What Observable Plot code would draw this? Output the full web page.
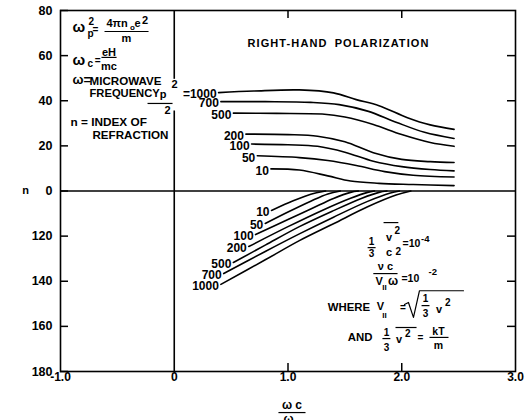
<!DOCTYPE html>
<html><head><meta charset="utf-8">
<script src="https://cdn.jsdelivr.net/npm/d3@7"></script>
<script src="https://cdn.jsdelivr.net/npm/@observablehq/plot@0.6"></script>
<style>body{margin:0;background:#fff} svg{display:block}</style>
</head><body><div id="chart"></div>
<script>
// tick values and labels
const yTicks = [80, 60, 40, 20, 0, -20, -40, -60, -80];
const yTickLabels = ["80", "60", "40", "20", "0", "120", "140", "160", "180"];
const xTicks = [-1, 0, 1, 2, 3];
const xTickLabels = ["-1.0", "0", "1.0", "2.0", "3.0"];
const sideTicksY = [60, 40, 20, -20, -40, -60];
const innerTicksX = [1, 2];

// curve names (ωp²/ω² values)
const curveNames = ["10", "50", "100", "200", "500", "700", "1000"];

// upper branch (n > 0): [ωc/ω, n]
const upper10   = [[0.85,9.8],[1.1,9.3],[1.35,6.7],[1.55,4.4],[1.8,3.4],[2.1,2.9],[2.46,2.4]];
const upper50   = [[0.73,15.6],[1.1,14.8],[1.35,13.5],[1.6,11.3],[1.85,8.6],[2.1,7.0],[2.46,6.2]];
const upper100  = [[0.68,20.8],[1.0,20.5],[1.26,19.8],[1.5,17.2],[1.75,13.2],[2.0,10.8],[2.25,9.5],[2.46,8.9]];
const upper200  = [[0.63,25.2],[1.0,25.0],[1.26,24.3],[1.5,21.8],[1.75,17.0],[2.0,14.0],[2.25,13.0],[2.46,12.6]];
const upper500  = [[0.52,34.5],[0.9,34.4],[1.3,34.1],[1.5,32.8],[1.75,29.5],[2.0,25.0],[2.25,21.5],[2.46,19.8]];
const upper700  = [[0.41,39.6],[0.8,39.6],[1.2,39.3],[1.45,38.3],[1.7,35.4],[1.95,30.5],[2.2,26.0],[2.46,23.3]];
const upper1000 = [[0.39,43.6],[0.7,44.3],[1.1,44.8],[1.4,43.5],[1.6,40.5],[1.8,37.8],[2.05,32.5],[2.25,29.3],[2.46,27.3]];

// lower branch (n < 0)
const lower10   = [[0.855,-8.6],[1.0,-5.3],[1.15,-2.3],[1.25,-0.8],[1.33,0]];
const lower50   = [[0.80,-14.4],[1.0,-9.3],[1.2,-4.5],[1.35,-1.3],[1.46,0]];
const lower100  = [[0.715,-19.3],[1.0,-12.6],[1.2,-8.0],[1.4,-3.3],[1.55,-0.6],[1.62,0]];
const lower200  = [[0.655,-24.6],[1.0,-15.8],[1.3,-8.6],[1.55,-3.2],[1.7,-0.6],[1.76,0]];
const lower500  = [[0.52,-31.7],[0.8,-24.0],[1.1,-15.8],[1.4,-8.7],[1.65,-3.2],[1.8,-0.6],[1.87,0]];
const lower700  = [[0.435,-36.6],[0.8,-26.8],[1.1,-19.0],[1.4,-11.6],[1.7,-4.6],[1.9,-0.9],[1.98,0]];
const lower1000 = [[0.41,-41.4],[0.8,-30.5],[1.1,-22.0],[1.4,-14.5],[1.7,-7.0],[1.95,-1.8],[2.08,0]];

const upperCurves = [upper10, upper50, upper100, upper200, upper500, upper700, upper1000];
const lowerCurves = [lower10, lower50, lower100, lower200, lower500, lower700, lower1000];

// build table
const curves = [];
const curveLabels = [];
curveNames.forEach((name, i) => {
  upperCurves[i].forEach(([x, y]) => curves.push({key: "u" + name, x, y}));
  lowerCurves[i].forEach(([x, y]) => curves.push({key: "l" + name, x, y}));
  curveLabels.push({x: upperCurves[i][0][0], y: upperCurves[i][0][1], text: name === "1000" ? "=1000" : name});
  curveLabels.push({x: lowerCurves[i][0][0], y: lowerCurves[i][0][1], text: name});
});

// annotation texts (data coordinates)
const notes = [
  {x:-0.894, y:72.5, t:"ω", s:15},
  {x:-0.754, y:75.2, t:"2", s:10},
  {x:-0.763, y:69.6, t:"p", s:10},
  {x:-0.718, y:71.3, t:"=", s:10},
  {x:-0.596, y:74.2, t:"4πn", s:11},
  {x:-0.389, y:72.6, t:"o", s:8},
  {x:-0.350, y:74.2, t:"e", s:11},
  {x:-0.284, y:75.7, t:"2", s:11},
  {x:-0.420, y:67.4, t:"m", s:11, a:"middle"},
  {x:-0.894, y:57.8, t:"ω", s:15},
  {x:-0.763, y:56.3, t:"c", s:10},
  {x:-0.700, y:57.8, t:"=", s:10},
  {x:-0.574, y:61.6, t:"eH", s:11, a:"middle"},
  {x:-0.574, y:55.4, t:"mc", s:11, a:"middle"},
  {x:-0.894, y:49.2, t:"ω=", s:13},
  {x:-0.745, y:48.5, t:"MICROWAVE", s:11.6},
  {x:-0.745, y:43.2, t:"FREQUENCY", s:11.2},
  {x:-0.128, y:42.6, t:"p", s:11},
  {x:0.002, y:47.0, t:"2", s:11, a:"middle"},
  {x:-0.059, y:35.5, t:"2", s:11, a:"middle"},
  {x:-0.912, y:30.4, t:"n = INDEX OF", s:11.8},
  {x:-0.719, y:24.6, t:"REFRACTION", s:11.6},
  {x:1.444, y:65.4, t:"RIGHT-HAND POLARIZATION", s:11, a:"middle"},
  {x:1.734, y:-22.4, t:"1", s:10, a:"middle"},
  {x:1.734, y:-27.9, t:"3", s:10, a:"middle"},
  {x:1.862, y:-20.4, t:"v", s:11},
  {x:1.936, y:-17.6, t:"2", s:10},
  {x:1.862, y:-27.4, t:"c", s:11},
  {x:1.946, y:-26.8, t:"2", s:10},
  {x:2.007, y:-23.3, t:"=10", s:10.5},
  {x:2.170, y:-21.3, t:"-4", s:9.5},
  {x:1.856, y:-33.5, t:"ν c", s:11, a:"middle"},
  {x:1.770, y:-40.1, t:"V", s:11},
  {x:1.829, y:-42.6, t:"II", s:8},
  {x:1.880, y:-39.9, t:"ω", s:12},
  {x:1.997, y:-38.8, t:"=10", s:10.5},
  {x:2.235, y:-35.7, t:"-2", s:9.5},
  {x:1.349, y:-51.6, t:"WHERE", s:11.4},
  {x:1.780, y:-51.2, t:"V", s:11},
  {x:1.829, y:-55.2, t:"II", s:8},
  {x:1.985, y:-51.6, t:"=", s:10},
  {x:2.209, y:-47.7, t:"1", s:10, a:"middle"},
  {x:2.209, y:-54.5, t:"3", s:10, a:"middle"},
  {x:2.300, y:-52.5, t:"v", s:11},
  {x:2.380, y:-49.4, t:"2", s:10},
  {x:1.525, y:-64.9, t:"AND", s:11.4},
  {x:1.866, y:-62.7, t:"1", s:10, a:"middle"},
  {x:1.866, y:-69.4, t:"3", s:10, a:"middle"},
  {x:1.950, y:-65.8, t:"v", s:11},
  {x:2.028, y:-63.4, t:"2", s:10},
  {x:2.165, y:-64.9, t:"=", s:10, a:"middle"},
  {x:2.323, y:-62.2, t:"kT", s:10.5, a:"middle"},
  {x:2.323, y:-68.4, t:"m", s:10.5, a:"middle"},
  {x:1.035, y:-95.0, t:"ω c", s:12, a:"middle"},
  {x:1.005, y:-101.3, t:"ω", s:12, a:"middle"},
  {x:-1.307, y:0.2, t:"n", s:11, a:"middle"}
];
const notesStart = notes.filter(d => !d.a);
const notesMiddle = notes.filter(d => d.a === "middle");

// fraction bars and overlines [x1, y1, x2, y2]
const noteLines = [
  [-0.613, 70.7, -0.226, 70.7],
  [-0.64, 59.2, -0.507, 59.2],
  [-0.235, 38.8, -0.015, 38.8],
  [1.70, -25.1, 1.77, -25.1],
  [1.84, -14.0, 1.97, -14.0],
  [1.75, -36.6, 1.963, -36.6],
  [2.174, -50.8, 2.244, -50.8],
  [1.83, -65.4, 1.90, -65.4],
  [1.945, -60.5, 2.13, -60.5],
  [2.244, -64.9, 2.411, -64.9],
  [0.916, -98.2, 1.154, -98.2]
];
// radical sign
const radical = [[2.024,-50.3],[2.059,-49.4],[2.103,-56.0],[2.156,-44.2],[2.543,-44.2]];
// x = 0 line, broken behind the p²/2 label
const zeroLineSegments = [[80, 49.5], [35.5, -80]];

const W = 525, H = 420, mL = 60, mR = 10, mT = 10, mB = 49;
const frameW = W - mL - mR, frameH = H - mT - mB;
const tickLen = 8;

const chart = Plot.plot({
  width: W, height: H,
  marginLeft: mL, marginRight: mR, marginTop: mT, marginBottom: mB,
  x: {domain: [-1, 3]},
  y: {domain: [-80, 80]},
  style: {fontFamily: "'Liberation Sans', Arial, sans-serif", fontWeight: "bold", background: "#fff", color: "#000"},
  marks: [
    Plot.frame({strokeWidth: 1.6}),
    Plot.ruleY([0], {strokeWidth: 1.6}),
    Plot.ruleX(zeroLineSegments, {x: () => 0, y1: d => d[0], y2: d => d[1], strokeWidth: 1.6}),
    Plot.tickY(yTicks, {y: d => d, insetRight: frameW - tickLen, strokeWidth: 1.5}),
    Plot.tickY(sideTicksY, {y: d => d, insetLeft: frameW - tickLen, strokeWidth: 1.5}),
    Plot.tickX(innerTicksX, {x: d => d, insetBottom: frameH - tickLen, strokeWidth: 1.5}),
    Plot.tickX(innerTicksX, {x: d => d, insetTop: frameH - tickLen, strokeWidth: 1.5}),
    Plot.axisY({ticks: yTicks, tickSize: 0, tickPadding: 8, fontSize: 12.5, label: null,
      tickFormat: d => yTickLabels[yTicks.indexOf(d)]}),
    Plot.axisX({ticks: xTicks, tickSize: 0, tickPadding: 1, fontSize: 12, label: null,
      tickFormat: d => xTickLabels[xTicks.indexOf(d)]}),
    Plot.line(curves, {x: "x", y: "y", z: "key", curve: "catmull-rom", strokeWidth: 1.6}),
    Plot.text(curveLabels, {x: "x", y: "y", text: "text", textAnchor: "end", dx: -2, dy: 2, fontSize: 12}),
    Plot.link(noteLines, {x1: d => d[0], y1: d => d[1], x2: d => d[2], y2: d => d[3], strokeWidth: 1.2}),
    Plot.line(radical, {x: d => d[0], y: d => d[1], strokeWidth: 1.2}),
    Plot.text(notesStart, {x: "x", y: "y", text: "t", fontSize: "s", textAnchor: "start"}),
    Plot.text(notesMiddle, {x: "x", y: "y", text: "t", fontSize: "s", textAnchor: "middle"})
  ]
});

document.getElementById("chart").appendChild(chart);
d3.select(chart).selectAll("text").filter(function() { return this.textContent === "RIGHT-HAND POLARIZATION"; })
  .attr("letter-spacing", "1.1px").attr("word-spacing", "3px");
</script>
</body></html>
